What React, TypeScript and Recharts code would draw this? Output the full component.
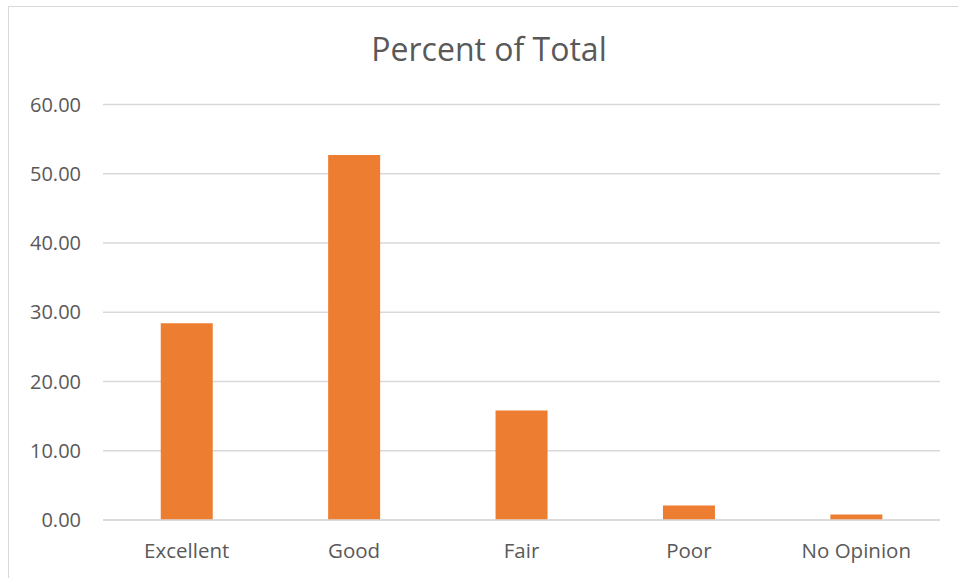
import React from 'react';
import { BarChart, Bar, XAxis, YAxis, CartesianGrid } from 'recharts';

const categories = ['Excellent', 'Good', 'Fair', 'Poor', 'No Opinion'];
const percentOfTotal = [28.4, 52.7, 15.8, 2.1, 0.8];
const yTicks = [0, 10, 20, 30, 40, 50, 60];

const data = categories.map((name, i) => ({ name, value: percentOfTotal[i] }));

const FONT = '"Open Sans", sans-serif';
const GREY = '#595959';

export default function App() {
    return (
        <div style={{ position: 'absolute', left: 0, top: 0, width: 958, height: 578, background: '#fff', overflow: 'hidden' }}>
            <div
                style={{
                    position: 'absolute',
                    left: 8,
                    top: 6,
                    width: 960,
                    height: 600,
                    border: '1px solid #d9d9d9',
                    boxSizing: 'border-box',
                }}
            />
            <div
                style={{
                    position: 'absolute',
                    left: 0,
                    width: 978,
                    top: 27,
                    textAlign: 'center',
                    fontFamily: FONT,
                    fontSize: 32,
                    color: GREY,
                    lineHeight: '44px',
                }}
            >
                Percent of Total
            </div>
            <div style={{ position: 'absolute', left: 0, top: 0 }}>
                <BarChart
                    width={958}
                    height={578}
                    data={data}
                    margin={{ top: 104.5, right: 18, left: 43, bottom: 28 }}
                    barCategoryGap="34.5%"
                >
                    <CartesianGrid vertical={false} stroke="#d9d9d9" strokeWidth={1.5} />
                    <XAxis
                        dataKey="name"
                        axisLine={{ stroke: '#d9d9d9', strokeWidth: 1.5 }}
                        tickLine={false}
                        tickSize={0}
                        tickMargin={23}
                        height={30}
                        tick={{ fill: GREY, fontSize: 20.5, fontFamily: FONT }}
                    />
                    <YAxis
                        domain={[0, 60]}
                        ticks={yTicks}
                        axisLine={false}
                        tickLine={false}
                        tickSize={0}
                        tickMargin={22}
                        width={60}
                        tickFormatter={(v: number) => v.toFixed(2)}
                        tick={{ fill: GREY, fontSize: 20, fontFamily: FONT }}
                    />
                    <Bar dataKey="value" fill="#ed7d31" isAnimationActive={false} />
                </BarChart>
            </div>
        </div>
    );
}
